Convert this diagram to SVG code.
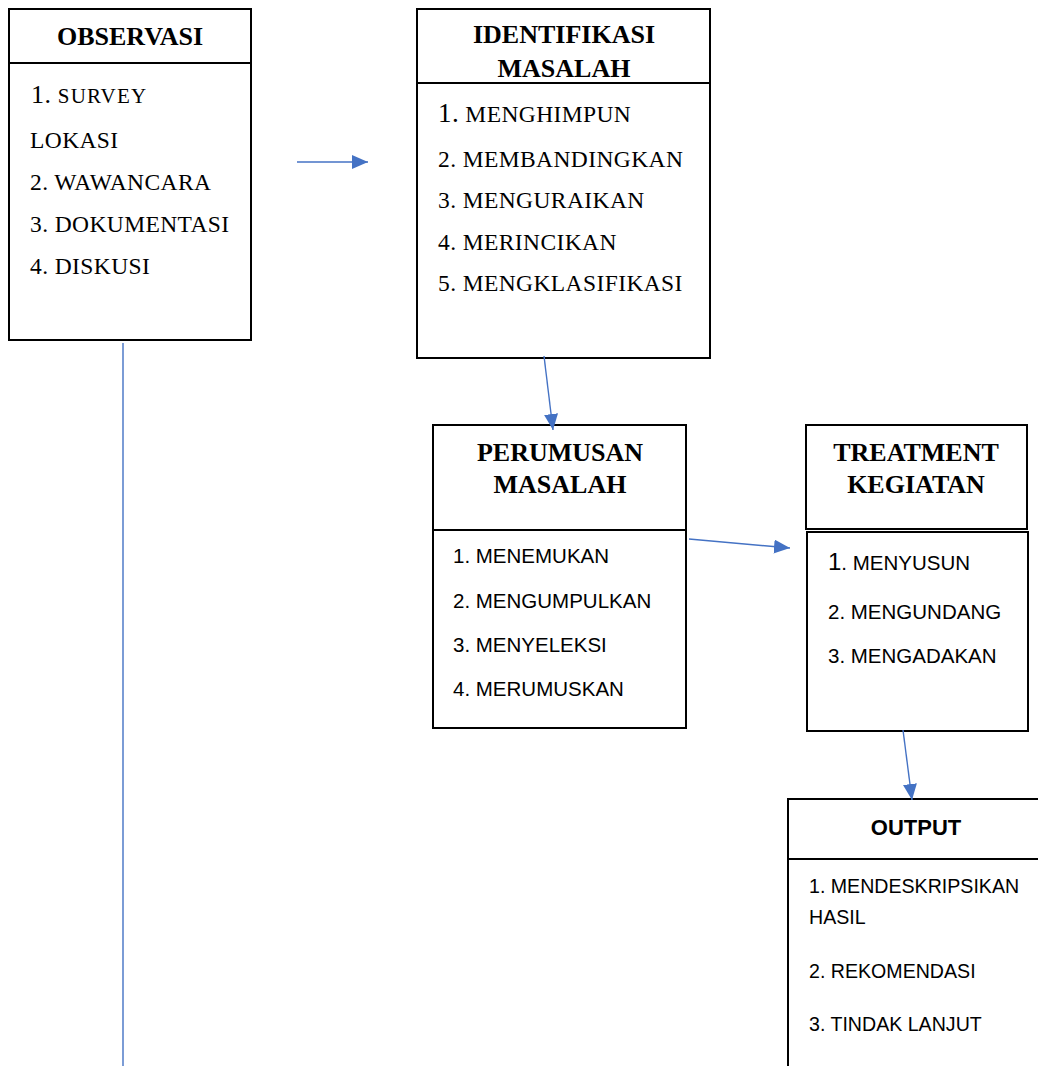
<svg xmlns="http://www.w3.org/2000/svg" width="1038" height="1066" viewBox="0 0 1038 1066">
<style>
.box{fill:#fff;stroke:#000;stroke-width:2}
.tt{font-family:"Liberation Serif","Times New Roman",serif;font-weight:bold;font-size:26px;text-anchor:middle;fill:#000}
.ts{font-family:"Liberation Sans",Arial,sans-serif;font-weight:bold;font-size:22px;text-anchor:middle;fill:#000}
.it{font-family:"Liberation Serif","Times New Roman",serif;font-size:23.5px;letter-spacing:0.4px;fill:#000}
.is{font-family:"Liberation Sans",Arial,sans-serif;font-size:20.5px;fill:#000}
.io{font-family:"Liberation Sans",Arial,sans-serif;font-size:19.6px;fill:#000}
.con{stroke:#4472C4;stroke-width:1.4;fill:none}
</style>
<defs>
<marker id="ah" markerUnits="userSpaceOnUse" markerWidth="16" markerHeight="14" refX="16" refY="7" orient="auto">
<path d="M0,0 L16,7 L0,14 z" fill="#4472C4"/>
</marker>
</defs>

<g id="observasi">
<rect class="box" x="9" y="9" width="242" height="331"/>
<line x1="9" y1="63" x2="251" y2="63" stroke="#000" stroke-width="2"/>
<text class="tt" x="130" y="45">OBSERVASI</text>
<text class="it" x="31" y="103"><tspan font-size="26">1.</tspan><tspan font-size="21" letter-spacing="1.2"> SURVEY</tspan></text>
<text class="it" x="30" y="148">LOKASI</text>
<text class="it" x="30" y="190">2. WAWANCARA</text>
<text class="it" x="30" y="232">3. DOKUMENTASI</text>
<text class="it" x="30" y="274">4. DISKUSI</text>
</g>

<g id="identifikasi">
<rect class="box" x="417" y="9" width="293" height="349"/>
<line x1="417" y1="83" x2="710" y2="83" stroke="#000" stroke-width="2"/>
<text class="tt" x="564" y="43">IDENTIFIKASI</text>
<text class="tt" x="564" y="77">MASALAH</text>
<text class="it" x="438" y="122"><tspan font-size="27">1.</tspan> MENGHIMPUN</text>
<text class="it" x="438" y="167">2. MEMBANDINGKAN</text>
<text class="it" x="438" y="208">3. MENGURAIKAN</text>
<text class="it" x="438" y="250">4. MERINCIKAN</text>
<text class="it" x="438" y="291">5. MENGKLASIFIKASI</text>
</g>

<g id="perumusan">
<rect class="box" x="433" y="425" width="253" height="303"/>
<line x1="433" y1="530" x2="686" y2="530" stroke="#000" stroke-width="2"/>
<text class="tt" x="560" y="461">PERUMUSAN</text>
<text class="tt" x="560" y="493">MASALAH</text>
<text class="is" x="453" y="563">1. MENEMUKAN</text>
<text class="is" x="453" y="608">2. MENGUMPULKAN</text>
<text class="is" x="453" y="652">3. MENYELEKSI</text>
<text class="is" x="453" y="696">4. MERUMUSKAN</text>
</g>

<g id="treatment">
<rect class="box" x="806" y="425" width="221" height="104"/>
<rect class="box" x="807" y="532" width="221" height="199" stroke="#333"/>
<text class="tt" x="916" y="461">TREATMENT</text>
<text class="tt" x="916" y="493">KEGIATAN</text>
<text class="is" x="828" y="570"><tspan font-size="24">1</tspan>. MENYUSUN</text>
<text class="is" x="828" y="619">2. MENGUNDANG</text>
<text class="is" x="828" y="663">3. MENGADAKAN</text>
</g>

<g id="output">
<path d="M1040,799 L788,799 L788,1068" fill="#fff" stroke="#000" stroke-width="2"/>
<line x1="788" y1="859" x2="1040" y2="859" stroke="#000" stroke-width="2"/>
<text class="ts" x="916" y="835">OUTPUT</text>
<text class="io" x="809" y="893">1. MENDESKRIPSIKAN</text>
<text class="io" x="809" y="924">HASIL</text>
<text class="io" x="809" y="978">2. REKOMENDASI</text>
<text class="io" x="809" y="1031">3. TINDAK LANJUT</text>
</g>

<g id="connectors">
<line class="con" x1="123" y1="343" x2="123" y2="1066"/>
<line class="con" x1="297" y1="162" x2="368" y2="162" marker-end="url(#ah)"/>
<line class="con" x1="544" y1="356" x2="553" y2="430" marker-end="url(#ah)"/>
<line class="con" x1="689" y1="539" x2="790" y2="548" marker-end="url(#ah)"/>
<line class="con" x1="903" y1="730" x2="912" y2="800" marker-end="url(#ah)"/>
</g>
</svg>
